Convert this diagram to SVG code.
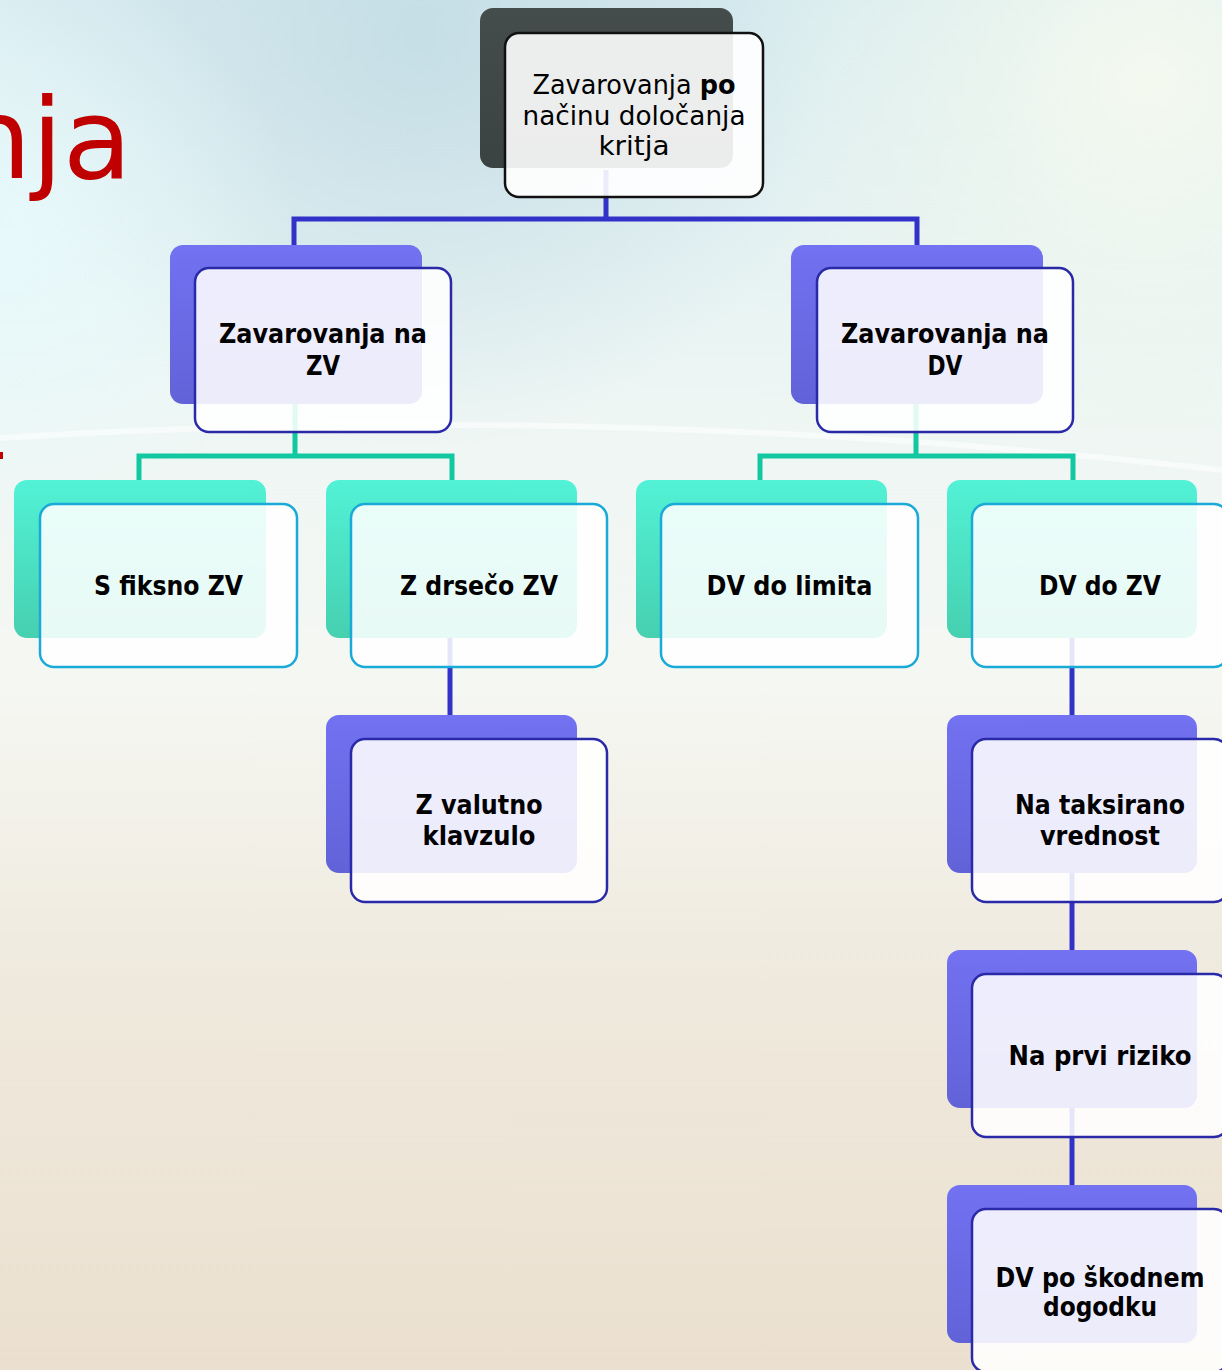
<svg xmlns="http://www.w3.org/2000/svg" width="1222" height="1370" viewBox="0 0 1222 1370">
<defs>
<linearGradient id="bgV" x1="0" y1="0" x2="0" y2="1">
<stop offset="0" stop-color="#d8ecf0"/>
<stop offset="0.3" stop-color="#eef6f4"/>
<stop offset="0.5" stop-color="#f5f7f2"/>
<stop offset="0.72" stop-color="#efe9dd"/>
<stop offset="1" stop-color="#ebe0cf"/>
</linearGradient>
<radialGradient id="blueBlob" cx="420" cy="30" r="420" gradientUnits="userSpaceOnUse">
<stop offset="0" stop-color="#c2dbe4" stop-opacity="0.85"/>
<stop offset="1" stop-color="#c2dbe4" stop-opacity="0"/>
</radialGradient>
<radialGradient id="cyanBlob" cx="0" cy="250" r="300" gradientUnits="userSpaceOnUse">
<stop offset="0" stop-color="#e8fafc" stop-opacity="0.9"/>
<stop offset="1" stop-color="#e8fafc" stop-opacity="0"/>
</radialGradient>
<radialGradient id="greenBlob" cx="1150" cy="80" r="420" gradientUnits="userSpaceOnUse">
<stop offset="0" stop-color="#f6faf0" stop-opacity="0.95"/>
<stop offset="1" stop-color="#eef6ea" stop-opacity="0"/>
</radialGradient>
<linearGradient id="gPurple" x1="0" y1="0" x2="0" y2="1">
<stop offset="0" stop-color="#7272f2"/>
<stop offset="1" stop-color="#6262d8"/>
</linearGradient>
<linearGradient id="gTeal" x1="0" y1="0" x2="0" y2="1">
<stop offset="0" stop-color="#52f2d6"/>
<stop offset="1" stop-color="#46d0b0"/>
</linearGradient>
<linearGradient id="gDark" x1="0" y1="0" x2="0" y2="1">
<stop offset="0" stop-color="#454c4c"/>
<stop offset="1" stop-color="#3a4242"/>
</linearGradient>
<style>
.txt{font-family:"DejaVu Sans","Liberation Sans",sans-serif;font-size:26px;fill:#000;text-anchor:middle}
.b{font-weight:bold}
.card{fill:#ffffff;fill-opacity:0.88;stroke-width:2.5}
.cBlue{stroke:#2a2aa8}
.cCyan{stroke:#1aaad8}
.cBlack{stroke:#111111;fill-opacity:0.9}
.shP{fill:url(#gPurple)}
.shT{fill:url(#gTeal)}
.shD{fill:url(#gDark)}
.conB{stroke:#3232c8;stroke-width:5;fill:none}
.conT{stroke:#12c8a0;stroke-width:5;fill:none}
</style>
</defs>

<!-- background -->
<rect x="0" y="0" width="1222" height="1370" fill="url(#bgV)"/>
<rect x="0" y="0" width="1222" height="600" fill="url(#blueBlob)"/>
<rect x="0" y="0" width="600" height="700" fill="url(#cyanBlob)"/>
<rect x="600" y="0" width="622" height="600" fill="url(#greenBlob)"/>
<path d="M0 438 Q 600 400 1222 470" stroke="#ffffff" stroke-width="6" fill="none" opacity="0.5"/>

<!-- title fragment -->
<text x="-40" y="178" textLength="172" lengthAdjust="spacingAndGlyphs" font-family="DejaVu Sans, sans-serif" font-size="112" fill="#c00000">nja</text>
<rect x="0" y="452" width="3" height="7" fill="#c00000"/>

<!-- connectors -->
<g id="connectors">
<path class="conB" d="M606 170 V219 M294 246 V219 H917 V246"/>
<path class="conT" d="M295 404 V456 M139 481 V456 H452 V481"/>
<path class="conT" d="M916 404 V456 M760 481 V456 H1073 V481"/>
<path class="conB" d="M450 638 V716"/>
<path class="conB" d="M1072 638 V716"/>
<path class="conB" d="M1072 873 V951"/>
<path class="conB" d="M1072 1108 V1186"/>
</g>

<g id="n-root">
<rect class="shD" x="480" y="8" width="253" height="160" rx="13"/>
<rect class="card cBlack" x="505" y="33" width="258" height="164" rx="14"/>
<text class="txt" x="634" y="94" textLength="203" lengthAdjust="spacingAndGlyphs">Zavarovanja <tspan class="b">po</tspan></text>
<text class="txt" x="634" y="125" textLength="223" lengthAdjust="spacingAndGlyphs">načinu določanja</text>
<text class="txt" x="634" y="155" textLength="71" lengthAdjust="spacingAndGlyphs">kritja</text>
</g>

<g id="n-zv">
<rect class="shP" x="170" y="245" width="252" height="159" rx="13"/>
<rect class="card cBlue" x="195" y="268" width="256" height="164" rx="14"/>
<text class="txt b" x="323" y="343" textLength="208" lengthAdjust="spacingAndGlyphs">Zavarovanja na</text>
<text class="txt b" x="323" y="375" textLength="34" lengthAdjust="spacingAndGlyphs">ZV</text>
</g>

<g id="n-dv">
<rect class="shP" x="791" y="245" width="252" height="159" rx="13"/>
<rect class="card cBlue" x="817" y="268" width="256" height="164" rx="14"/>
<text class="txt b" x="945" y="343" textLength="208" lengthAdjust="spacingAndGlyphs">Zavarovanja na</text>
<text class="txt b" x="945" y="375" textLength="35" lengthAdjust="spacingAndGlyphs">DV</text>
</g>

<g id="n-fiksno">
<rect class="shT" x="14" y="480" width="252" height="158" rx="13"/>
<rect class="card cCyan" x="40" y="504" width="257" height="163" rx="14"/>
<text class="txt b" x="168.5" y="595" textLength="149" lengthAdjust="spacingAndGlyphs">S fiksno ZV</text>
</g>

<g id="n-drseco">
<rect class="shT" x="326" y="480" width="251" height="158" rx="13"/>
<rect class="card cCyan" x="351" y="504" width="256" height="163" rx="14"/>
<text class="txt b" x="479" y="595" textLength="158" lengthAdjust="spacingAndGlyphs">Z drsečo ZV</text>
</g>

<g id="n-limita">
<rect class="shT" x="636" y="480" width="251" height="158" rx="13"/>
<rect class="card cCyan" x="661" y="504" width="257" height="163" rx="14"/>
<text class="txt b" x="789.5" y="595" textLength="166" lengthAdjust="spacingAndGlyphs">DV do limita</text>
</g>

<g id="n-dvzv">
<rect class="shT" x="947" y="480" width="250" height="158" rx="13"/>
<rect class="card cCyan" x="972" y="504" width="256" height="163" rx="14"/>
<text class="txt b" x="1100" y="595" textLength="122" lengthAdjust="spacingAndGlyphs">DV do ZV</text>
</g>

<g id="n-valutno">
<rect class="shP" x="326" y="715" width="251" height="158" rx="13"/>
<rect class="card cBlue" x="351" y="739" width="256" height="163" rx="14"/>
<text class="txt b" x="479" y="814" textLength="127" lengthAdjust="spacingAndGlyphs">Z valutno</text>
<text class="txt b" x="479" y="845" textLength="113" lengthAdjust="spacingAndGlyphs">klavzulo</text>
</g>

<g id="n-taksirano">
<rect class="shP" x="947" y="715" width="250" height="158" rx="13"/>
<rect class="card cBlue" x="972" y="739" width="256" height="163" rx="14"/>
<text class="txt b" x="1100" y="814" textLength="170" lengthAdjust="spacingAndGlyphs">Na taksirano</text>
<text class="txt b" x="1100" y="845" textLength="120" lengthAdjust="spacingAndGlyphs">vrednost</text>
</g>

<g id="n-prvi">
<rect class="shP" x="947" y="950" width="250" height="158" rx="13"/>
<rect class="card cBlue" x="972" y="974" width="256" height="163" rx="14"/>
<text class="txt b" x="1100" y="1065" textLength="183" lengthAdjust="spacingAndGlyphs">Na prvi riziko</text>
</g>

<g id="n-skodnem">
<rect class="shP" x="947" y="1185" width="250" height="158" rx="13"/>
<rect class="card cBlue" x="972" y="1209" width="256" height="163" rx="14"/>
<text class="txt b" x="1100" y="1287" textLength="209" lengthAdjust="spacingAndGlyphs">DV po škodnem</text>
<text class="txt b" x="1100" y="1316" textLength="114" lengthAdjust="spacingAndGlyphs">dogodku</text>
</g>
</svg>
